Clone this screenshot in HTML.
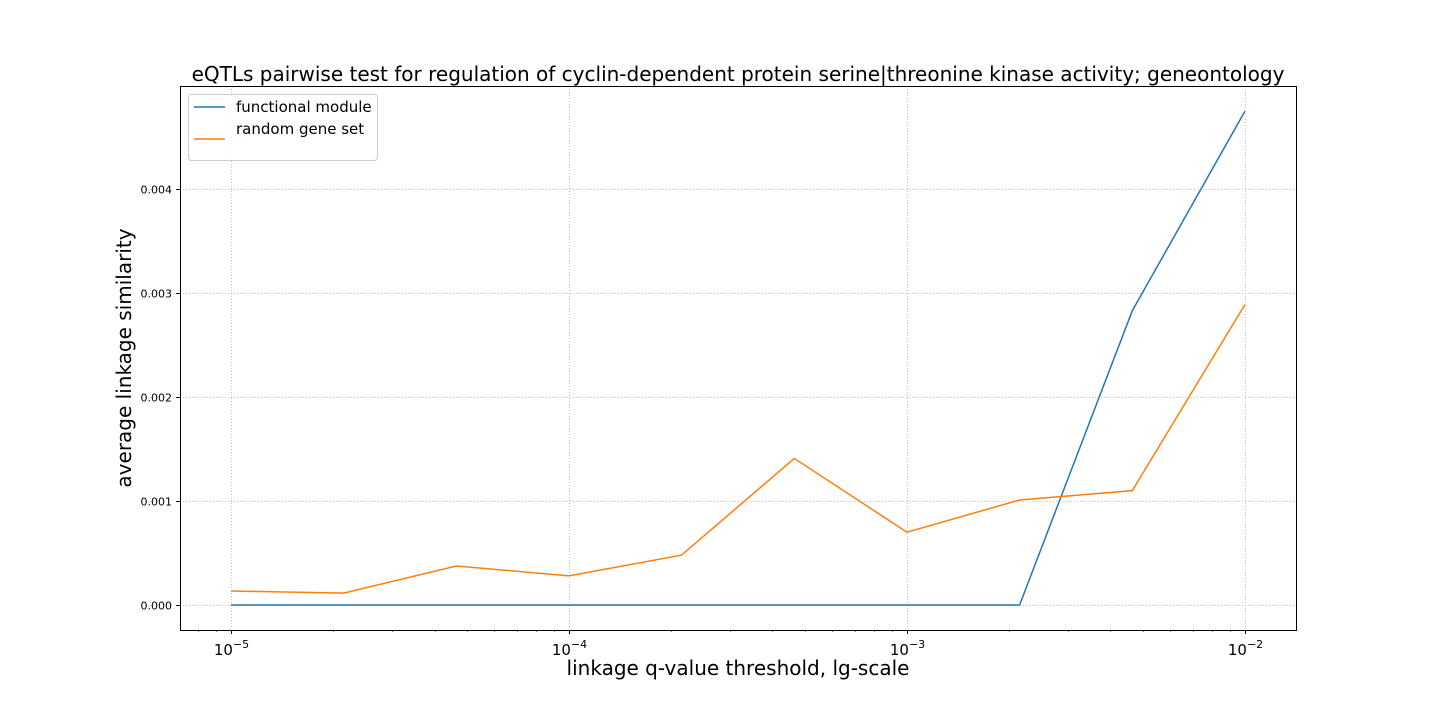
<!DOCTYPE html>
<html><head><meta charset="utf-8">
<style>
html,body{margin:0;padding:0;background:#fff;}
svg{display:block;font-family:"DejaVu Sans","Liberation Sans",sans-serif;}
</style></head>
<body>
<svg id="chart" width="1440" height="720">
<text x="738" y="81" font-size="20" text-anchor="middle" fill="#000">eQTLs pairwise test for regulation of cyclin-dependent protein serine|threonine kinase activity; geneontology</text>
<text x="738" y="675" font-size="20" text-anchor="middle">linkage q-value threshold, lg-scale</text>
<text transform="translate(131,358) rotate(-90)" font-size="20" text-anchor="middle">average linkage similarity</text>
<g id="grid"></g>
<g id="marks"></g>
<rect x="180.5" y="86.5" width="1116" height="544" fill="none" stroke="#000" stroke-width="1"/>
<g id="ticks"></g>
<g>
<rect x="188.5" y="94.5" width="189" height="66" rx="3" fill="#fff" fill-opacity="0.8" stroke="#ccc"/>
<line x1="194" y1="107" x2="225" y2="107" stroke="#1f77b4" stroke-width="1.5"/>
<text x="236" y="112" font-size="15">functional module</text>
<line x1="194" y1="139" x2="225" y2="139" stroke="#ff7f0e" stroke-width="1.5"/>
<text x="236" y="134" font-size="15">random gene set</text>
</g>
</svg>
<script>
const thresholds = [1e-5, 2.154e-5, 4.642e-5, 1e-4, 2.154e-4, 4.642e-4, 1e-3, 2.154e-3, 4.642e-3, 1e-2];
const functionalModule = [0, 0, 0, 0, 0, 0, 0, 0, 0.00283, 0.00475];
const randomGeneSet = [0.000135, 0.000115, 0.000375, 0.00028, 0.00048, 0.00141, 0.0007, 0.00101, 0.0011, 0.00289];
const yTicks = [0, 0.001, 0.002, 0.003, 0.004];
const yTickLabels = ["0.000", "0.001", "0.002", "0.003", "0.004"];
const xMajor = [-5, -4, -3, -2];

const L = 180, R = 1296, T = 86, B = 630;
const xMin = -5.151, xMax = -1.849, yMin = -0.00024, yMax = 0.004991;
const xs = v => L + (Math.log10(v) - xMin) / (xMax - xMin) * (R - L);
const xl = lg => L + (lg - xMin) / (xMax - xMin) * (R - L);
const ys = v => B - (v - yMin) / (yMax - yMin) * (B - T);
const NS = "http://www.w3.org/2000/svg";
function mk(tag, attrs, parent) {
  const e = document.createElementNS(NS, tag);
  for (const k in attrs) e.setAttribute(k, attrs[k]);
  parent.appendChild(e);
  return e;
}
const grid = document.getElementById('grid'), ticks = document.getElementById('ticks'), marks = document.getElementById('marks');
xMajor.forEach(p => {
  const x = Math.round(xl(p)) + 0.5;
  const g = mk('line', {x1: x, x2: x, y1: T, y2: B, stroke: '#b0b0b0', 'stroke-width': 0.8, 'stroke-dasharray': '1,2'}, grid);
  
  
  const t = mk('line', {x1: x, x2: x, y1: B, y2: B + 4, stroke: '#000'}, ticks);
  
  
  const lab = mk('text', {x: x, y: B + 25, 'font-size': 15, 'text-anchor': 'middle'}, ticks);
  
  
  lab.innerHTML = '10<tspan dy="-7" font-size="11">\u2212' + (-p) + '</tspan>';
});
for (let d = -6; d <= -2; d++) {
  for (let m = 2; m <= 9; m++) {
    const lg = d + Math.log10(m);
    if (lg < xMin || lg > xMax) continue;
    const x = Math.round(xl(lg)) + 0.5;
    const t = mk('line', {x1: x, x2: x, y1: B, y2: B + 2, stroke: '#000', 'stroke-width': 0.6}, ticks);
    
    
  }
}
yTicks.forEach((v, i) => {
  const y = Math.round(ys(v)) + 0.5;
  const g = mk('line', {x1: L, x2: R, y1: y, y2: y, stroke: '#b0b0b0', 'stroke-width': 0.8, 'stroke-dasharray': '1,2'}, grid);
  
  
  const t = mk('line', {x1: L - 4, x2: L, y1: y, y2: y, stroke: '#000'}, ticks);
  
  
  const lab = mk('text', {x: L - 8, y: y + 4, 'font-size': 11, 'text-anchor': 'end'}, ticks);
  
  
  lab.textContent = yTickLabels[i];
});
function line(vals, color, name) {
  const pts = vals.map((v, i) => xs(thresholds[i]).toFixed(1) + ',' + ys(v).toFixed(1)).join(' ');
  const p = mk('polyline', {points: pts, fill: 'none', stroke: color, 'stroke-width': 1.5}, marks);
  
  
}
line(functionalModule, '#1f77b4', 'functional-module-line');
line(randomGeneSet, '#ff7f0e', 'random-gene-set-line');
</script>
</body></html>
